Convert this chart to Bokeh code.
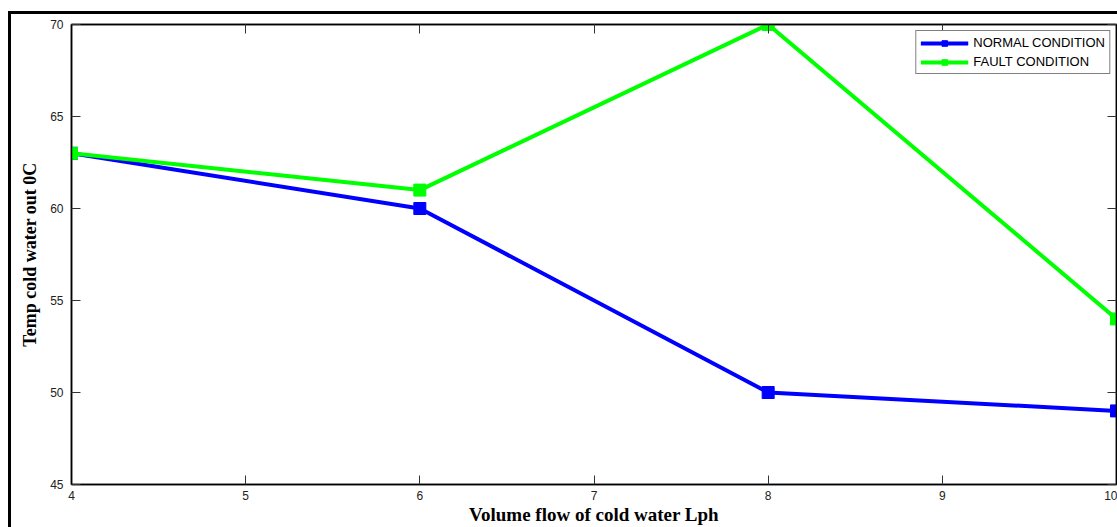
from bokeh.plotting import figure
from bokeh.models import LinearAxis, Range1d, FixedTicker, Legend, LegendItem, CustomJSTickFormatter
from bokeh.layouts import column
from bokeh.embed import file_html
from bokeh.resources import INLINE

flow = [4, 6, 8, 10]
normal = [63, 60, 50, 49]
fault = [63, 61, 70, 54]
x_ticks = [4, 5, 6, 7, 8, 9, 10]
y_ticks = [45, 50, 55, 60, 65, 70]

p = figure(width=1106, height=513, output_backend="svg", toolbar_location=None,
           x_range=Range1d(4, 10), y_range=Range1d(45, 70))
p.min_border_left = 60
p.min_border_right = 1
p.min_border_top = 10
p.min_border_bottom = 43
p.xgrid.visible = False
p.ygrid.visible = False
p.outline_line_color = "black"
p.outline_line_width = 1.5
p.background_fill_color = "white"
p.border_fill_color = "white"

tick_font = "Liberation Sans"
label_font = "Liberation Serif"

def style_axis(ax, show_labels):
    ax.axis_line_color = "black"
    ax.axis_line_width = 1.5
    ax.major_tick_in = 9
    ax.major_tick_out = 0
    ax.minor_tick_in = 0
    ax.minor_tick_out = 0
    ax.major_tick_line_color = "#333333"
    ax.major_tick_line_width = 1
    ax.major_label_text_font = tick_font
    ax.major_label_text_color = "#222222"
    if show_labels:
        ax.major_label_text_font_size = "12px"
    else:
        ax.formatter = CustomJSTickFormatter(code="return ''")
        ax.major_label_text_font_size = "0px"
        ax.major_label_standoff = 0

xa = p.xaxis[0]
ya = p.yaxis[0]
xa.ticker = FixedTicker(ticks=x_ticks)
ya.ticker = FixedTicker(ticks=y_ticks)
style_axis(xa, True)
style_axis(ya, True)
xa.major_label_standoff = 6
ya.major_label_standoff = 8
xa.axis_label = "Volume flow of cold water Lph"
ya.axis_label = "Temp cold water out 0C"
for ax in (xa, ya):
    ax.axis_label_text_font = label_font
    ax.axis_label_text_font_style = "bold"
    ax.axis_label_text_color = "black"
xa.axis_label_text_font_size = "19px"
ya.axis_label_text_font_size = "18px"
xa.axis_label_standoff = 1
ya.axis_label_standoff = 7

top = LinearAxis(ticker=FixedTicker(ticks=x_ticks))
right = LinearAxis(ticker=FixedTicker(ticks=y_ticks))
style_axis(top, False)
style_axis(right, False)
p.add_layout(top, "above")
p.add_layout(right, "right")

l1 = p.line(flow, normal, line_color="#0000FF", line_width=4)
s1 = p.scatter(flow, normal, marker="square", size=12, fill_color="#0000FF", line_color="#0000FF")
l2 = p.line(flow, fault, line_color="#00FF00", line_width=4)
s2 = p.scatter(flow, fault, marker="square", size=12, fill_color="#00FF00", line_color="#00FF00")

legend = Legend(items=[LegendItem(label="NORMAL CONDITION", renderers=[l1, s1]),
                       LegendItem(label="FAULT CONDITION", renderers=[l2, s2])],
                location="top_right")
legend.margin = 6
legend.padding = 4
legend.spacing = 4
legend.glyph_width = 48
legend.glyph_height = 14
legend.label_height = 14
legend.label_standoff = 5
legend.label_text_font = tick_font
legend.label_text_font_size = "13px"
legend.label_text_color = "black"
legend.border_line_color = "black"
legend.border_line_width = 1
legend.background_fill_alpha = 1
p.add_layout(legend, "center")

page = column(p, styles={"border-left": "3px solid black", "border-top": "3px solid black",
                         "margin-left": "8px", "margin-top": "11px"})

open("out.html", "w").write(file_html(page, INLINE))
